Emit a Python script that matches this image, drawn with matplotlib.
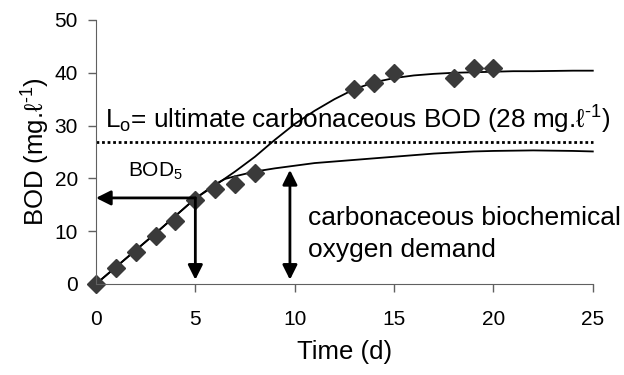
import numpy as np
import matplotlib
matplotlib.use("Agg")
from matplotlib import pyplot as plt

plt.rcParams['font.family'] = ['Liberation Sans', 'DejaVu Sans']
plt.rcParams['mathtext.fontset'] = 'custom'
plt.rcParams['mathtext.rm'] = 'Liberation Sans'
plt.rcParams['mathtext.it'] = 'Liberation Sans:italic'
plt.rcParams['mathtext.bf'] = 'Liberation Sans:bold'

# measured BOD (diamonds)
obs_day = [0, 1, 2, 3, 4, 5, 6, 7, 8, 13, 14, 15, 18, 19, 20]
obs_bod = [0, 3, 6, 9, 12, 16, 18, 19, 21, 37, 38, 40, 39, 41, 41]

# total BOD curve (carbonaceous + nitrogenous)
total_day = [0, 1, 2, 3, 4, 5, 6, 7, 8, 9, 10, 11, 12, 13, 14, 15, 16, 17, 18, 19, 20, 21, 22, 23, 24, 25]
total_bod = [0, 3.2, 6.4, 9.6, 12.9, 16.2, 18.7, 21.3, 24.1, 27.3, 30.3, 32.8, 35.0, 36.9, 38.2, 39.0,
             39.5, 39.8, 40.0, 40.1, 40.2, 40.3, 40.3, 40.35, 40.4, 40.4]

# carbonaceous BOD curve
carb_day = [0, 1, 2, 3, 4, 5, 6, 6.5, 7, 8, 9, 10, 11, 12, 13, 14, 15, 16, 17, 18, 19, 20, 21, 22, 23, 24, 25]
carb_bod = [0, 3.2, 6.4, 9.6, 12.9, 16.2, 18.9, 19.9, 20.4, 21.3, 21.9, 22.4, 22.9, 23.2, 23.5, 23.8, 24.1,
            24.4, 24.7, 24.9, 25.1, 25.2, 25.25, 25.3, 25.25, 25.2, 25.1]

lo_level = 26.8
bod5_day, bod5_value = 5, 16.3
cbod_day, cbod_top = 9.76, 21.6

axis_grey = '#606060'

fig = plt.figure(figsize=(6.24, 3.75), dpi=100)
ax = fig.add_axes([0.1538, 0.2427, 0.7962, 0.704])

ax.plot(total_day, total_bod, color='black', lw=1.3)
ax.plot(carb_day, carb_bod, color='black', lw=1.3)
ax.plot(obs_day, obs_bod, linestyle='none', marker='D', ms=9.3, color='#3a3a3a')
ax.hlines(lo_level, 0, 25, colors='black', linestyles=(0, (1, 1)), lw=2)

arrow = dict(arrowstyle='-|>', lw=2, color='black', mutation_scale=22, shrinkA=0, shrinkB=0)
ax.annotate('', xy=(0, bod5_value), xytext=(bod5_day, bod5_value), arrowprops=arrow)
ax.annotate('', xy=(bod5_day, 0.8), xytext=(bod5_day, bod5_value), arrowprops=arrow)
ax.annotate('', xy=(cbod_day, cbod_top), xytext=(cbod_day, 0.8),
            arrowprops=dict(arrowstyle='<|-|>', lw=2, color='black', mutation_scale=22, shrinkA=0, shrinkB=0))

ax.text(0.45, 29.5, r'L$_{\rm o}$= ultimate carbonaceous BOD (28 mg.ℓ$^{\text{-}1}$)', fontsize=18.8, va='baseline')
ax.text(1.6, 20.3, r'BOD$_5$', fontsize=15, va='baseline')
ax.text(10.66, 11.2, 'carbonaceous biochemical', fontsize=19, va='baseline')
ax.text(10.66, 5.2, 'oxygen demand', fontsize=19, va='baseline')

ax.set_xlim(0, 25)
ax.set_ylim(0, 50)
ax.set_xticks([0, 5, 10, 15, 20, 25])
ax.set_yticks([0, 10, 20, 30, 40, 50])
ax.tick_params(labelsize=15, length=6, width=1, direction='out', color=axis_grey)
ax.tick_params(axis='x', pad=13)
ax.tick_params(axis='y', pad=7)
ax.spines['top'].set_visible(False)
ax.spines['right'].set_visible(False)
ax.spines['left'].set_color(axis_grey)
ax.spines['bottom'].set_color(axis_grey)
ax.set_xlabel('Time (d)', fontsize=18.5, labelpad=8)
ax.set_ylabel(r'BOD (mg.ℓ$^{\text{-}1}$)', fontsize=18.5, labelpad=2)
for artist in ax.get_children():
    artist.set_clip_on(False)

fig.savefig('out.png', dpi=100)
